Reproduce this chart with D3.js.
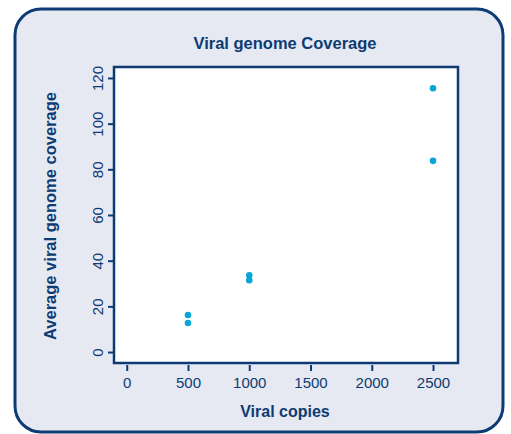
<!DOCTYPE html>
<html>
<head>
<meta charset="utf-8">
<script src="https://cdn.jsdelivr.net/npm/d3@7"></script>
<style>
  body { margin: 0; background: #fff; }
  text { font-family: "Liberation Sans", Arial, sans-serif; }
</style>
</head>
<body>
<svg id="chart" width="511" height="434"></svg>
<script>
const copies = [500, 500, 1000, 1000, 2500, 2500];
const coverage = [16.2, 12.7, 33.6, 31.4, 115.5, 83.7];
const xTicks = [0, 500, 1000, 1500, 2000, 2500];
const yTicks = [0, 20, 40, 60, 80, 100, 120];

const navy = "#0d3b73";
const width = 511, height = 434;
const margin = { top: 67, right: 53, bottom: 71, left: 114 };

const svg = d3.select("#chart");

// outer panel
svg.append("rect")
  .attr("x", 15).attr("y", 9)
  .attr("width", 488).attr("height", 423)
  .attr("rx", 26)
  .attr("fill", "#e6e8f2")
  .attr("stroke", navy).attr("stroke-width", 3);

const xScale = d3.scaleLinear()
  .domain([-104, 2704])
  .range([margin.left, width - margin.right]);

const yScale = d3.scaleLinear()
  .domain([-4.8, 124.8])
  .range([height - margin.bottom, margin.top]);

// plot box
svg.append("rect")
  .attr("x", margin.left).attr("y", margin.top)
  .attr("width", width - margin.left - margin.right)
  .attr("height", height - margin.top - margin.bottom)
  .attr("fill", "#fff")
  .attr("stroke", navy).attr("stroke-width", 2.5);

const xAxis = d3.axisBottom(xScale).tickValues(xTicks).tickFormat(d3.format("d")).tickSize(6).tickPadding(6);
const yAxis = d3.axisLeft(yScale).tickValues(yTicks).tickFormat(d3.format("d")).tickSize(6).tickPadding(5);

const gx = svg.append("g")
  .attr("transform", `translate(0,${height - margin.bottom + 2})`)
  .call(xAxis);
gx.select(".domain").remove();
gx.selectAll("line").attr("stroke", navy).attr("stroke-width", 2);
gx.selectAll("text").attr("fill", navy).attr("font-size", 15);

const gy = svg.append("g")
  .attr("transform", `translate(${margin.left},0)`)
  .call(yAxis);
gy.select(".domain").remove();
gy.selectAll("line").attr("stroke", navy).attr("stroke-width", 2);
gy.selectAll("text")
  .attr("fill", navy).attr("font-size", 15)
  .attr("text-anchor", "middle")
  .attr("dy", null)
  .attr("x", null)
  .attr("transform", "translate(-11,0) rotate(-90)")
  .attr("y", 0);

// points
svg.append("g")
  .selectAll("circle")
  .data(copies.map((c, i) => ({ x: c, y: coverage[i] })))
  .join("circle")
  .attr("cx", d => xScale(d.x))
  .attr("cy", d => yScale(d.y))
  .attr("r", 3.3)
  .attr("fill", "#0aa5d6");

// titles
svg.append("text")
  .attr("x", 285).attr("y", 49)
  .attr("text-anchor", "middle")
  .attr("font-size", 16.5).attr("font-weight", "bold")
  .attr("fill", navy)
  .text("Viral genome Coverage");

svg.append("text")
  .attr("x", 285).attr("y", 417)
  .attr("text-anchor", "middle")
  .attr("font-size", 16).attr("font-weight", "bold")
  .attr("fill", navy)
  .text("Viral copies");

svg.append("text")
  .attr("transform", `translate(56,${(margin.top + height - margin.bottom) / 2 + 1}) rotate(-90)`)
  .attr("text-anchor", "middle")
  .attr("font-size", 16.5).attr("font-weight", "bold")
  .attr("fill", navy)
  .text("Average viral genome coverage");
</script>
</body>
</html>
